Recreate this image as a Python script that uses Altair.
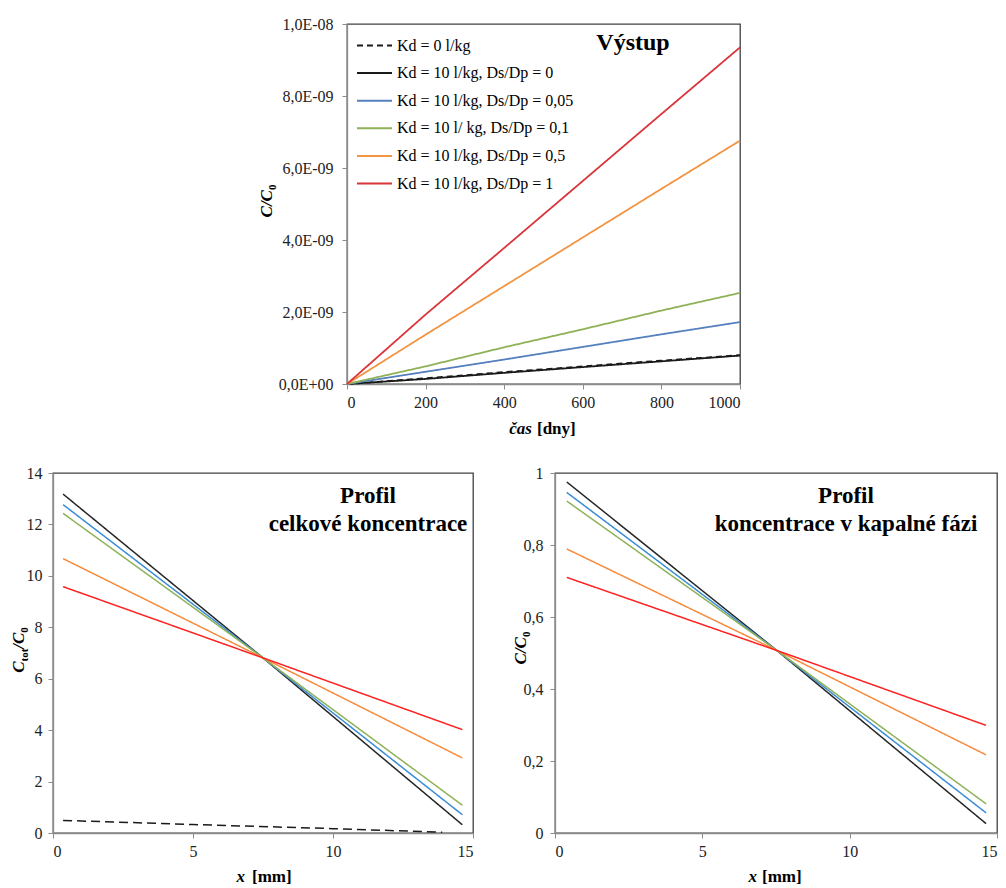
import altair as alt
import pandas as pd

FONT = "Liberation Serif"

series_names = [
    "Kd = 0 l/kg",
    "Kd = 10 l/kg, Ds/Dp = 0",
    "Kd = 10 l/kg, Ds/Dp = 0,05",
    "Kd = 10 l/ kg, Ds/Dp = 0,1",
    "Kd = 10 l/kg, Ds/Dp = 0,5",
    "Kd = 10 l/kg, Ds/Dp = 1",
]

# --- outlet concentration C/C0 versus time [days] ---
days = [0, 200, 400, 600, 800, 1000]
out_kd0 = [0, 0.16e-9, 0.33e-9, 0.49e-9, 0.65e-9, 0.80e-9]
out_ds0 = [0, 0.14e-9, 0.31e-9, 0.47e-9, 0.63e-9, 0.79e-9]
out_ds005 = [0, 0.34e-9, 0.68e-9, 1.03e-9, 1.38e-9, 1.72e-9]
out_ds01 = [0, 0.49e-9, 1.02e-9, 1.52e-9, 2.04e-9, 2.53e-9]
out_ds05 = [0, 1.37e-9, 2.72e-9, 4.07e-9, 5.42e-9, 6.76e-9]
out_ds1 = [0, 1.93e-9, 3.78e-9, 5.64e-9, 7.50e-9, 9.35e-9]

# --- total concentration profile Ctot/C0 versus x [mm] ---
x_tot = [0.36, 7.5, 14.62]
tot_ds0 = [13.18, 6.81, 0.32]
tot_ds005 = [12.77, 6.81, 0.71]
tot_ds01 = [12.43, 6.81, 1.08]
tot_ds05 = [10.67, 6.81, 2.92]
tot_ds1 = [9.58, 6.81, 4.02]
x_tot_kd0 = [0.36, 5.0, 10.0, 13.9]
tot_kd0 = [0.49, 0.33, 0.17, 0.03]

# --- liquid-phase concentration profile C/C0 versus x [mm] ---
x_liq = [0.40, 7.53, 14.63]
liq_ds0 = [0.975, 0.507, 0.026]
liq_ds005 = [0.946, 0.507, 0.056]
liq_ds01 = [0.922, 0.507, 0.081]
liq_ds05 = [0.789, 0.507, 0.217]
liq_ds1 = [0.710, 0.507, 0.299]

top_colors = ["#1a1a1a", "#1a1a1a", "#5580BE", "#8FB157", "#F39443", "#D9353A"]
bottom_colors = ["#1a1a1a", "#262626", "#3A8DD6", "#8FB157", "#F68B3C", "#FF2020"]
dashes = [[6, 4], [1, 0], [1, 0], [1, 0], [1, 0], [1, 0]]
bottom_dashes = [[9, 5], [1, 0], [1, 0], [1, 0], [1, 0], [1, 0]]


def long_table(xs_list, ys_list, names):
    rows = []
    for xs, ys, name in zip(xs_list, ys_list, names):
        for xv, yv in zip(xs, ys):
            rows.append({"x": xv, "y": yv, "s": name})
    return pd.DataFrame(rows)


df_out = long_table(
    [days] * 6,
    [out_kd0, out_ds0, out_ds005, out_ds01, out_ds05, out_ds1],
    series_names,
)
df_tot = long_table(
    [x_tot_kd0, x_tot, x_tot, x_tot, x_tot, x_tot],
    [tot_kd0, tot_ds0, tot_ds005, tot_ds01, tot_ds05, tot_ds1],
    series_names,
)
df_liq = long_table(
    [x_liq] * 5,
    [liq_ds0, liq_ds005, liq_ds01, liq_ds05, liq_ds1],
    series_names[1:],
)

# shared look of every axis
AXIS_STYLE = dict(
    grid=False,
    domainColor="#8c8c8c",
    domainWidth=1.3,
    tickColor="#8c8c8c",
    tickSize=5,
    labelFont=FONT,
    labelFontSize=16,
    labelColor="#222222",
    title=None,
)


def label_text(text, x, y, size=17, italic=False, align="center", weight="bold",
               angle=0, dx=0, dy=0):
    return alt.Chart(pd.DataFrame({"t": [text]})).mark_text(
        font=FONT,
        fontSize=size,
        fontWeight=weight,
        fontStyle="italic" if italic else "normal",
        align=align,
        baseline="alphabetic",
        color="#000000",
        angle=angle,
        dx=dx,
        dy=dy,
    ).encode(text="t:N", x=alt.value(x), y=alt.value(y))


# Advance widths (in em) of the Times-metric serif used for the rotated titles
EM = {"C": 0.667, "/": 0.278, "t": 0.333, "o": 0.5, "0": 0.5}


def rotated_title(pieces, x, y_center):
    """Vertical axis title built from normal and subscript pieces, read bottom-up."""
    total = sum(sum(EM[ch] for ch in txt) * size for txt, size, _, _ in pieces)
    y0 = y_center + total / 2
    layers = []
    offset = 0.0
    for txt, size, italic, drop in pieces:
        layers.append(label_text(txt, x, y0, size=size, italic=italic, align="left",
                                 angle=270, dx=offset, dy=drop))
        offset += sum(EM[ch] for ch in txt) * size
    return layers


legend_spec = dict(
    orient="none",
    legendX=9,
    legendY=3,
    title=None,
    symbolType="stroke",
    symbolSize=1225,
    symbolStrokeWidth=2,
    labelFont=FONT,
    labelFontSize=16,
    labelColor="#000000",
    labelOffset=4,
    labelLimit=400,
    rowPadding=0.6,
    padding=0,
)

# ---------------- top panel: outlet ----------------
out_lines = alt.Chart(df_out).mark_line(strokeWidth=1.8).encode(
    x=alt.X(
        "x:Q",
        scale=alt.Scale(domain=[0, 1000], nice=False),
        axis=alt.Axis(values=[0, 200, 400, 600, 800, 1000], format="d",
                      labelPadding=5, **AXIS_STYLE),
    ),
    y=alt.Y(
        "y:Q",
        scale=alt.Scale(domain=[0, 1e-8], nice=False),
        axis=alt.Axis(
            values=[0, 2e-9, 4e-9, 6e-9, 8e-9, 1e-8],
            labelExpr="datum.value == 0 ? '0,0E+00' : (datum.value > 9.9e-9 ? '1,0E-08' : "
                      "replace(format(datum.value * 1e9, '.1f'), '.', ',') + 'E-09')",
            labelPadding=9,
            **AXIS_STYLE,
        ),
    ),
    color=alt.Color(
        "s:N",
        scale=alt.Scale(domain=series_names, range=top_colors),
        sort=series_names,
        legend=alt.Legend(**legend_spec),
    ),
    strokeDash=alt.StrokeDash(
        "s:N",
        scale=alt.Scale(domain=series_names, range=dashes),
        sort=series_names,
        legend=alt.Legend(**legend_spec),
    ),
)

top = alt.layer(
    out_lines,
    label_text("Výstup", 286, 26, size=24),
    label_text("čas", 185, 410, italic=True, align="right"),
    label_text("[dny]", 190, 410, align="left"),
    *rotated_title([("C/C", 17, True, 0), ("0", 11, False, 4)], -75, 177),
).properties(width=393, height=360)

spacer = alt.Chart(pd.DataFrame({"t": [""]})).mark_text().encode(
    text="t:N", x=alt.value(0), y=alt.value(0)
).properties(width=274, height=10, view=alt.ViewBackground(strokeOpacity=0))

# ---------------- bottom left: total concentration ----------------
tot_lines = alt.Chart(df_tot).mark_line(strokeWidth=1.5).encode(
    x=alt.X(
        "x:Q",
        scale=alt.Scale(domain=[0, 15], nice=False),
        axis=alt.Axis(values=[0, 5, 10, 15], labelPadding=5, **AXIS_STYLE),
    ),
    y=alt.Y(
        "y:Q",
        scale=alt.Scale(domain=[0, 14], nice=False),
        axis=alt.Axis(values=[0, 2, 4, 6, 8, 10, 12, 14], labelPadding=6, **AXIS_STYLE),
    ),
    color=alt.Color(
        "s:N", scale=alt.Scale(domain=series_names, range=bottom_colors), legend=None
    ),
    strokeDash=alt.StrokeDash(
        "s:N", scale=alt.Scale(domain=series_names, range=bottom_dashes), legend=None
    ),
)

left = alt.layer(
    tot_lines,
    label_text("Profil", 315, 30, size=23),
    label_text("celkové koncentrace", 315, 58, size=23),
    label_text("x", 192, 409, italic=True, align="right"),
    label_text("[mm]", 199, 409, align="left"),
    *rotated_title(
        [("C", 17, True, 0), ("tot", 11, False, 4), ("/C", 17, True, 0), ("0", 11, False, 4)],
        -29.5, 177,
    ),
).properties(width=420, height=360)

# ---------------- bottom right: liquid-phase concentration ----------------
liq_lines = alt.Chart(df_liq).mark_line(strokeWidth=1.5).encode(
    x=alt.X(
        "x:Q",
        scale=alt.Scale(domain=[0, 15], nice=False),
        axis=alt.Axis(values=[0, 5, 10, 15], labelPadding=5, **AXIS_STYLE),
    ),
    y=alt.Y(
        "y:Q",
        scale=alt.Scale(domain=[0, 1], nice=False),
        axis=alt.Axis(
            values=[0, 0.2, 0.4, 0.6, 0.8, 1],
            labelExpr="datum.value == 0 ? '0' : (datum.value == 1 ? '1' : "
                      "replace(format(datum.value, '.1f'), '.', ','))",
            labelPadding=7,
            **AXIS_STYLE,
        ),
    ),
    color=alt.Color(
        "s:N", scale=alt.Scale(domain=series_names, range=bottom_colors), legend=None
    ),
    strokeDash=alt.StrokeDash(
        "s:N", scale=alt.Scale(domain=series_names, range=bottom_dashes), legend=None
    ),
)

right = alt.layer(
    liq_lines,
    label_text("Profil", 291, 30, size=23),
    label_text("koncentrace v kapalné fázi", 291, 58, size=23),
    label_text("x", 202, 409, italic=True, align="right"),
    label_text("[mm]", 207, 409, align="left"),
    *rotated_title([("C/C", 17, True, 0), ("0", 11, False, 4)], -29.5, 175),
).properties(width=442, height=360)

top_row = alt.hconcat(spacer, top, spacing=20, bounds="flush").resolve_scale(
    color="independent", strokeDash="independent"
)
bottom_row = alt.hconcat(left, right, spacing=82, bounds="flush").resolve_scale(
    color="independent", strokeDash="independent"
)

chart = alt.vconcat(
    top_row, bottom_row, spacing=26
).resolve_scale(
    color="independent", strokeDash="independent"
).properties(
    padding={"left": 8, "top": 15, "right": 0, "bottom": 0},
    background="#ffffff",
).configure(
    font=FONT
).configure_view(
    stroke="#404040", strokeWidth=1.3
).configure_legend(
    labelFont=FONT
)

chart.save("out.html", embed_options={"renderer": "svg", "actions": False})
